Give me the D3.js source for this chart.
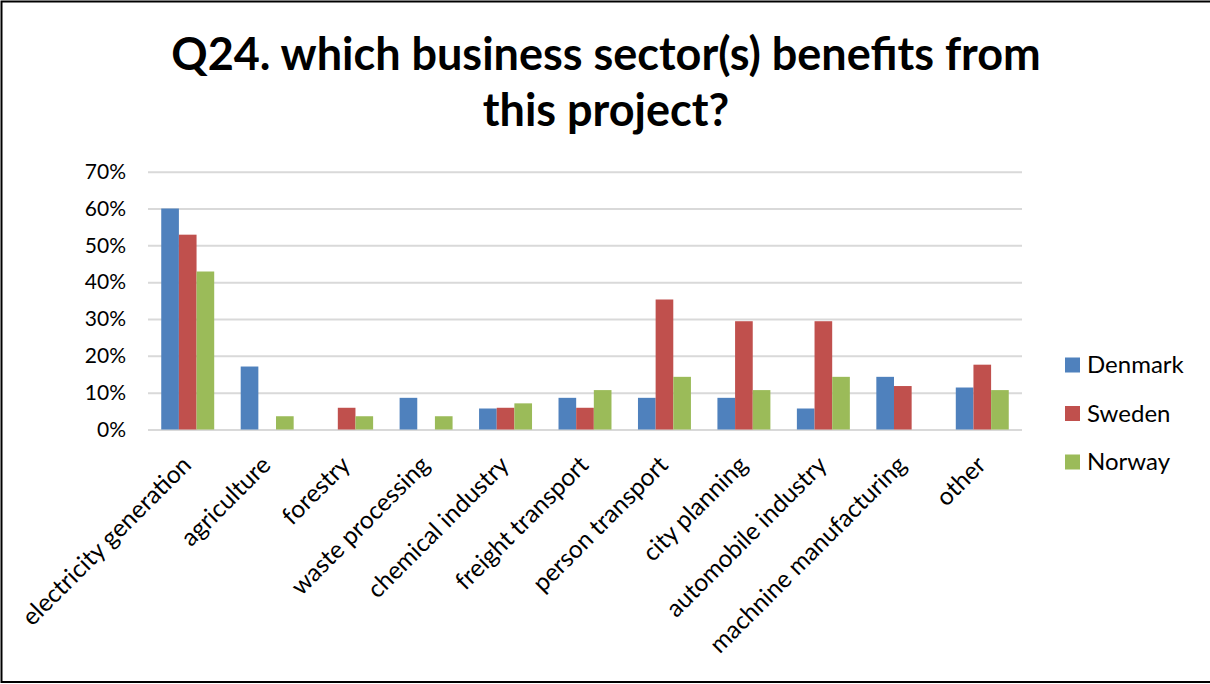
<!DOCTYPE html>
<html>
<head>
<meta charset="utf-8">
<script src="https://cdn.jsdelivr.net/npm/d3@7"></script>
<style>
  html, body { margin: 0; padding: 0; background: #fff; }
  svg { display: block; }
  text { font-family: Lato, "Open Sans", sans-serif; fill: #000; }
</style>
</head>
<body>
<svg id="chart" width="1210" height="684"></svg>
<script>
// Survey answers: share of respondents per country naming each sector
const categories = [
  "electricity generation", "agriculture", "forestry", "waste processing",
  "chemical industry", "freight transport", "person transport", "city planning",
  "automobile industry", "machnine manufacturing", "other"
];
const series = ["Denmark", "Sweden", "Norway"];
const denmark = [0.600, 0.171, 0.000, 0.086, 0.057, 0.086, 0.086, 0.086, 0.057, 0.143, 0.114];
const sweden  = [0.529, 0.000, 0.059, 0.000, 0.059, 0.059, 0.353, 0.294, 0.294, 0.118, 0.176];
const norway  = [0.429, 0.036, 0.036, 0.036, 0.071, 0.107, 0.143, 0.107, 0.143, 0.000, 0.107];
const yTicks = [0, 0.1, 0.2, 0.3, 0.4, 0.5, 0.6, 0.7];
const titleLines = ["Q24. which business sector(s) benefits from", "this project?"];
const colors = ["#4F81BD", "#C0504D", "#9BBB59"];

const values = [denmark, sweden, norway];
const rows = categories.map((c, i) => ({
  category: c,
  bars: series.map((s, j) => ({ series: s, value: values[j][i] }))
}));

const svg = d3.select("#chart");
const W = 1210, H = 684;

// outer frame (right edge runs off the canvas)
svg.append("rect")
  .attr("x", 1.5).attr("y", 1.5)
  .attr("width", W + 10).attr("height", 680.5)
  .attr("fill", "#fff").attr("stroke", "#000").attr("stroke-width", 2);

// title
svg.append("text")
  .attr("x", 606).attr("y", 70)
  .attr("text-anchor", "middle")
  .style("font-weight", "bold").style("font-size", "45px")
  .selectAll("tspan").data(titleLines).join("tspan")
  .attr("x", 606)
  .attr("dy", (d, i) => i === 0 ? 0 : 56)
  .text(d => d);

const plot = { left: 148, right: 1022, top: 171.7, bottom: 429.5 };

const x0 = d3.scaleBand()
  .domain(categories)
  .range([plot.left, plot.right])
  .paddingInner(0).paddingOuter(0);

// gap between groups = 1.5 bar widths
const barW = x0.bandwidth() / 4.5;
const x1 = d3.scaleBand()
  .domain(series)
  .range([barW * 0.75, barW * 3.75])
  .padding(0);

const y = d3.scaleLinear().domain([0, 0.7]).range([plot.bottom, plot.top]);

// gridlines and y labels
const yAxis = d3.axisLeft(y)
  .tickValues(yTicks)
  .tickFormat(d3.format(".0%"))
  .tickSize(-(plot.right - plot.left))
  .tickPadding(22);

const gy = svg.append("g")
  .attr("transform", `translate(${plot.left},0)`)
  .call(yAxis);
gy.select(".domain").remove();
gy.selectAll(".tick line").attr("stroke", "#d9d9d9").attr("stroke-width", 2);
gy.selectAll(".tick text")
  .style("font-size", "21px").style("font-family", "Lato, sans-serif")
  .attr("fill", "#000");

// bars
svg.append("g")
  .selectAll("g")
  .data(rows)
  .join("g")
  .attr("transform", d => `translate(${x0(d.category)},0)`)
  .selectAll("rect")
  .data(d => d.bars)
  .join("rect")
  .attr("x", d => x1(d.series))
  .attr("width", x1.bandwidth())
  .attr("y", d => y(d.value))
  .attr("height", d => y(0) - y(d.value))
  .attr("fill", (d, i) => colors[i]);

// category labels, rotated 45 degrees
const xAxis = d3.axisBottom(x0).tickSize(0).tickPadding(0);
const gx = svg.append("g")
  .attr("transform", `translate(0,${plot.bottom})`)
  .call(xAxis);
gx.select(".domain").remove();
gx.selectAll(".tick text")
  .style("font-size", "24.5px").style("font-family", "Lato, sans-serif")
  .attr("fill", "#000")
  .attr("text-anchor", "end")
  .attr("dy", 0)
  .attr("transform", "translate(5,37) rotate(-45)");

// legend
const legend = svg.append("g")
  .selectAll("g")
  .data(series)
  .join("g")
  .attr("transform", (d, i) => `translate(1065,${365 + i * 48.5})`);
legend.append("rect")
  .attr("x", 0).attr("y", -7.5)
  .attr("width", 15).attr("height", 15)
  .attr("fill", (d, i) => colors[i]);
legend.append("text")
  .attr("x", 22).attr("y", 0).attr("dy", "0.35em")
  .style("font-size", "24px")
  .text(d => d);
</script>
</body>
</html>
